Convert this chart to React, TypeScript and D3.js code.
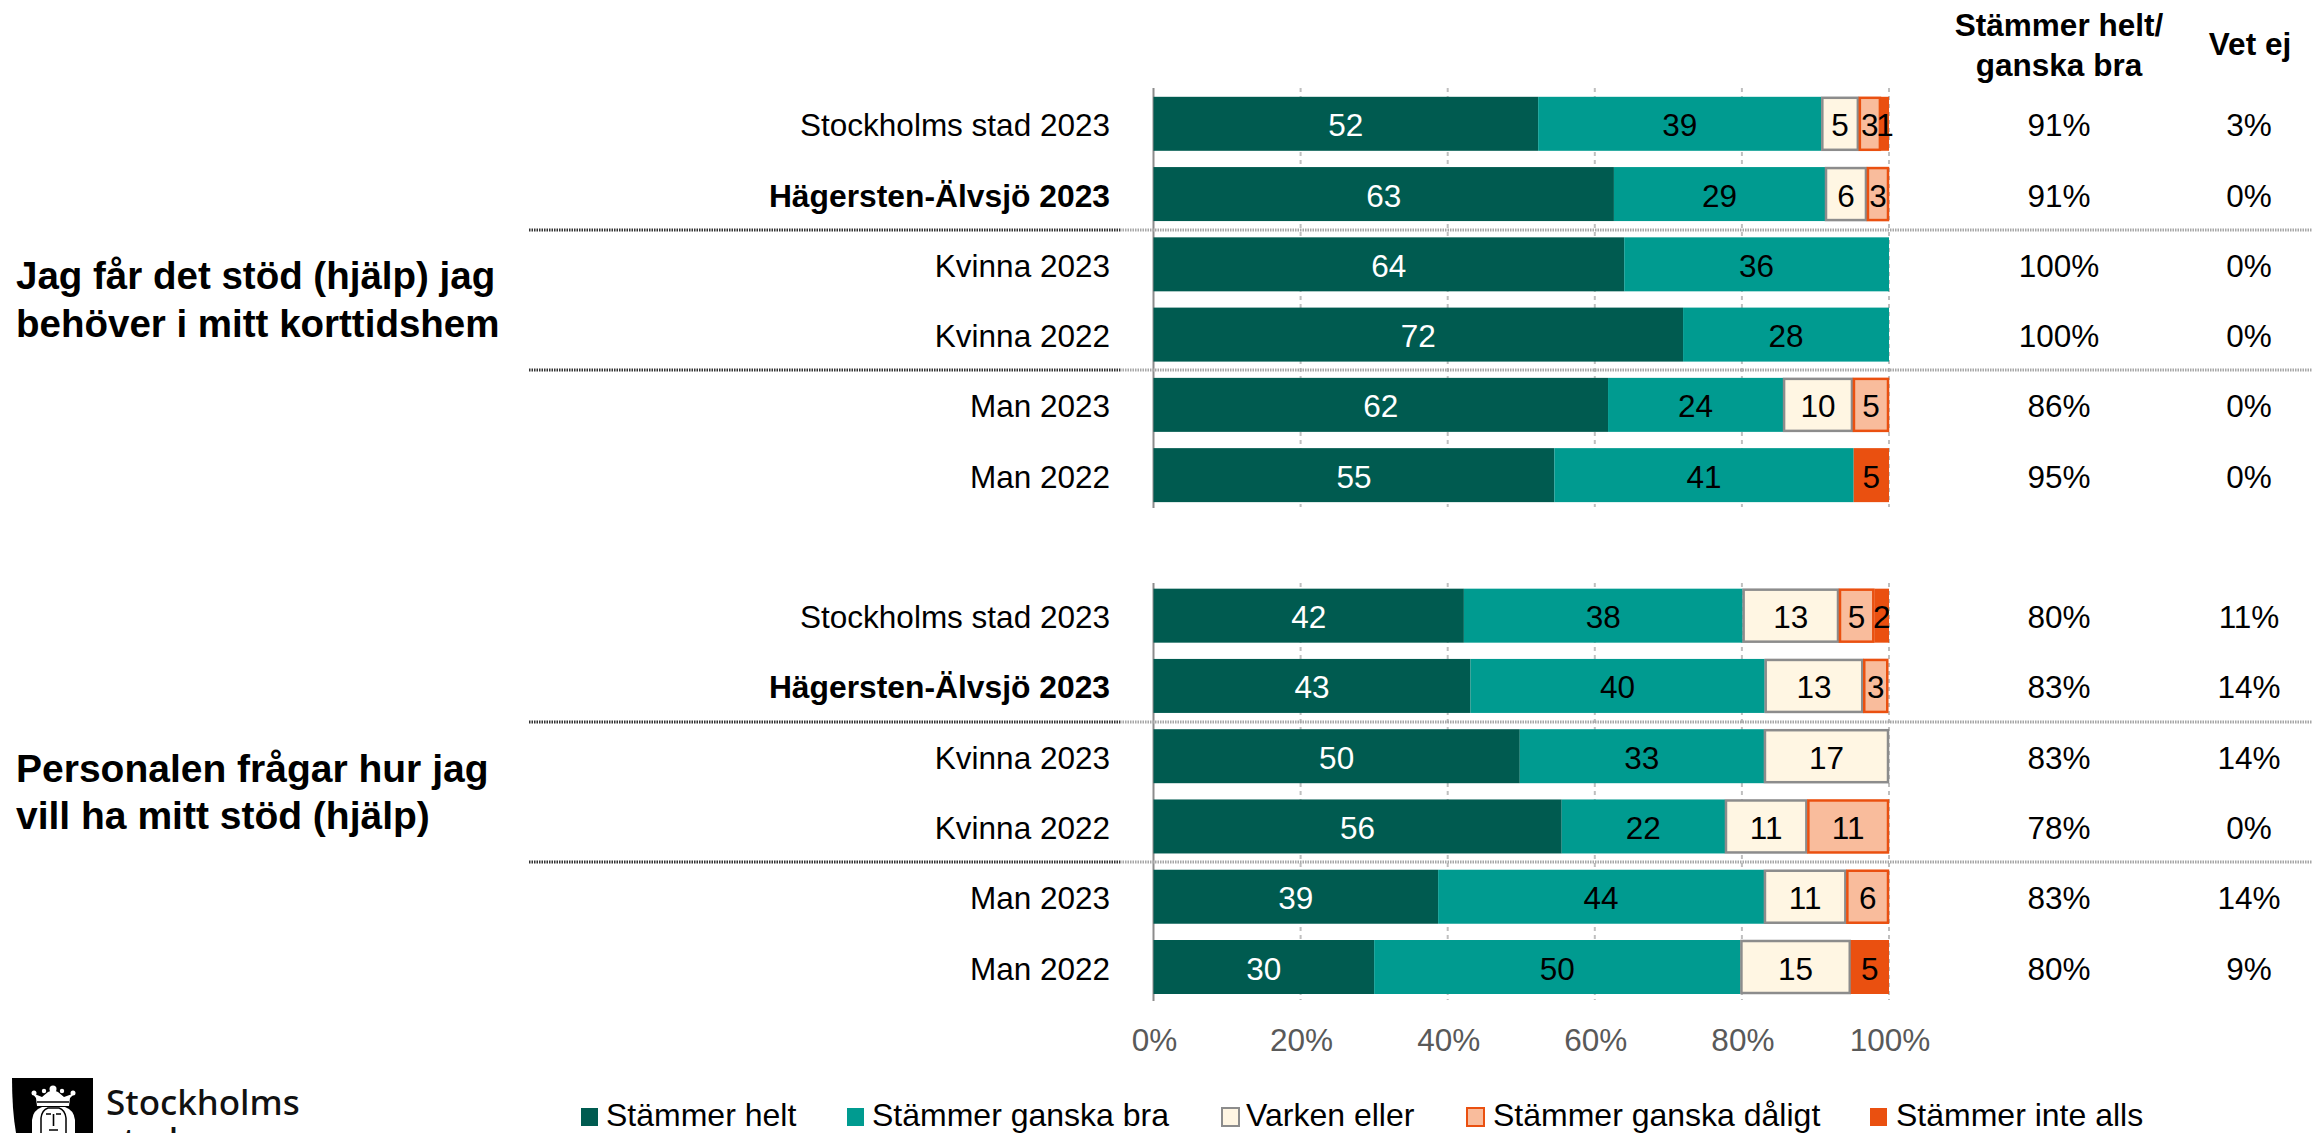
import React from "react";
import * as d3 from "d3";

const rowLabels = [
  "Stockholms stad 2023", "Hägersten-Älvsjö 2023", "Kvinna 2023", "Kvinna 2022", "Man 2023", "Man 2022",
  "Stockholms stad 2023", "Hägersten-Älvsjö 2023", "Kvinna 2023", "Kvinna 2022", "Man 2023", "Man 2022",
];
const boldRows = [1, 7];
const slotOfRow = [0, 1, 2, 3, 4, 5, 7, 8, 9, 10, 11, 12];
const slots = d3.range(13);

const helt = [52.3, 62.6, 64, 72.0, 61.8, 54.5, 42.2, 43.1, 49.8, 55.5, 38.7, 30];
const ganskaBra = [38.5, 28.7, 36, 28.0, 23.8, 40.7, 37.9, 40.0, 33.2, 22.2, 44.3, 49.8];
const varken = [5.1, 5.7, 0, 0, 9.5, 0, 13.1, 13.4, 17.0, 11.2, 11.2, 15];
const daligt = [3, 3, 0, 0, 4.9, 0, 4.8, 3.4, 0, 11.1, 5.8, 0];
const inteAlls = [1.1, 0, 0, 0, 0, 4.8, 2, 0, 0, 0, 0, 5.2];

const positiveShare = ["91%", "91%", "100%", "100%", "86%", "95%", "80%", "83%", "83%", "78%", "83%", "80%"];
const dontKnow = ["3%", "0%", "0%", "0%", "0%", "0%", "11%", "14%", "14%", "0%", "14%", "9%"];
const xTicks = [0, 20, 40, 60, 80, 100];

const seriesNames = ["Stämmer helt", "Stämmer ganska bra", "Varken eller", "Stämmer ganska dåligt", "Stämmer inte alls"];
const seriesValues = [helt, ganskaBra, varken, daligt, inteAlls];
const seriesFill = ["#005B50", "#009B90", "#FFF6E3", "#F9BC9C", "#EA5010"];
const seriesStroke = ["none", "none", "#8C8C8C", "#EA5010", "none"];
const seriesText = ["#FFFFFF", "#000000", "#000000", "#000000", "#000000"];
const legendX = [581, 847, 1221, 1466, 1870];
const legendTextX = [606, 872, 1246, 1493, 1896];

const questions = [
  { lines: ["Jag får det stöd (hjälp) jag", "behöver i mitt korttidshem"], y: [289, 337], size: 38.5 },
  { lines: ["Personalen frågar hur jag", "vill ha mitt stöd (hjälp)"], y: [782, 829], size: 39 },
];
const separators = [230, 370, 722, 862];
const axisSpans = [[88, 508], [583, 1001]];

const FONT = '"Liberation Sans", Arial, sans-serif';
const FS = 31.5;
const TEXT_DY = 12.5;

const x = d3.scaleLinear().domain([0, 100]).range([1153.5, 1889]);
const y = d3.scalePoint<number>().domain(slots).range([123.8, 967]);
const BAR_H = 54;

const table = helt.map((_, i) => {
  const o: Record<string, number> = {};
  seriesNames.forEach((n, s) => (o[n] = seriesValues[s][i]));
  return o;
});
const stacked = d3.stack<Record<string, number>>().keys(seriesNames)(table);

function Logo() {
  return (
    <g>
      <path d="M12 1078 H93 V1133 H16 Q12 1110 12 1078 Z" fill="#000" />
      <path d="M32 1133 V1120 Q33 1110 42 1107 H65 Q74 1110 75 1120 V1133 Z" fill="#fff" />
      <path d="M41 1133 V1118 Q42 1110 48 1108 H59 Q65 1110 66 1118 V1133" fill="none" stroke="#000" strokeWidth="1.5" />
      <path d="M37 1106 L36 1098 L32 1093 L42 1097 L48 1092 L53 1090 L58 1092 L64 1097 L75 1093 L70 1098 L69 1106 Z" fill="#fff" />
      <path d="M37 1102 H69" stroke="#000" strokeWidth="1.5" />
      <circle cx="53" cy="1089" r="3.5" fill="#fff" />
      <circle cx="34" cy="1093" r="2.5" fill="#fff" />
      <circle cx="73" cy="1093" r="2.5" fill="#fff" />
      <circle cx="44" cy="1091" r="2.2" fill="#fff" />
      <circle cx="62" cy="1091" r="2.2" fill="#fff" />
      <path d="M46 1114 H51 M56 1114 H61 M53.5 1114 V1126 M49 1130 H58" stroke="#000" strokeWidth="1.6" fill="none" />
      <text x={106} y={1115} fontFamily='"Noto Sans", sans-serif' fontSize={35} fontWeight={500} fill="#111">Stockholms</text>
      <text x={106} y={1153} fontFamily='"Noto Sans", sans-serif' fontSize={35} fontWeight={500} fill="#111">stad</text>
    </g>
  );
}

export default function App() {
  return (
    <svg
      width={2321}
      height={1133}
      viewBox="0 0 2321 1133"
      style={{ position: "absolute", left: 0, top: 0, background: "#fff", display: "block" }}
      fontFamily={FONT}
      fontSize={FS}
    >
      {/* gridlines */}
      {axisSpans.map(([a, b], k) => (
        <g key={k}>
          {xTicks.slice(1).map((t) => (
            <line key={t} x1={x(t)} x2={x(t)} y1={a} y2={b - 1} stroke="#BFBFBF" strokeWidth={2} strokeDasharray="4 4" />
          ))}
          <line x1={x(0)} x2={x(0)} y1={a} y2={b} stroke="#8C8C8C" strokeWidth={2} />
        </g>
      ))}

      {/* separators */}
      {separators.map((s) => (
        <g key={s}>
          <line x1={529} x2={1120} y1={s} y2={s} stroke="#333" strokeWidth={3} strokeDasharray="1.5 1" />
          <line x1={1120} x2={2312} y1={s} y2={s} stroke="#A6A6A6" strokeWidth={3} strokeDasharray="1.5 1" />
        </g>
      ))}

      {/* bars */}
      {stacked.map((layer, s) => (
        <g key={seriesNames[s]}>
          {layer.map((d, i) => {
            const w = x(d[1]) - x(d[0]);
            if (w <= 0) return null;
            const cy = y(slotOfRow[i])!;
            const stroked = seriesStroke[s] !== "none";
            return (
              <rect
                key={i}
                x={x(d[0]) + (stroked ? 1 : 0)}
                y={cy - BAR_H / 2 + (stroked ? 1 : 0)}
                width={w - (stroked ? 2 : 0)}
                height={BAR_H - (stroked ? 2 : 0)}
                fill={seriesFill[s]}
                stroke={seriesStroke[s]}
                strokeWidth={stroked ? 2.5 : 0}
              />
            );
          })}
        </g>
      ))}
      {stacked.map((layer, s) => (
        <g key={seriesNames[s]}>
          {layer.map((d, i) => {
            if (x(d[1]) - x(d[0]) <= 0) return null;
            const cy = y(slotOfRow[i])!;
            return (
              <text key={i} x={(x(d[0]) + x(d[1])) / 2} y={cy + TEXT_DY} textAnchor="middle" fill={seriesText[s]}>
                {Math.round(seriesValues[s][i])}
              </text>
            );
          })}
        </g>
      ))}

      {/* row labels and side columns */}
      {rowLabels.map((label, i) => {
        const cy = y(slotOfRow[i])!;
        const bold = boldRows.includes(i);
        return (
          <g key={i}>
            <text x={1110} y={cy + TEXT_DY} textAnchor="end" fill="#000" fontWeight={bold ? 700 : 400} fontSize={bold ? 31.8 : FS}>
              {label}
            </text>
            <text x={2059} y={cy + TEXT_DY} textAnchor="middle" fill="#000">{positiveShare[i]}</text>
            <text x={2249} y={cy + TEXT_DY} textAnchor="middle" fill="#000">{dontKnow[i]}</text>
          </g>
        );
      })}

      {/* headers */}
      <g fontWeight={700} textAnchor="middle" fill="#000">
        <text x={2059} y={36}>Stämmer helt/</text>
        <text x={2059} y={76}>ganska bra</text>
        <text x={2250} y={55}>Vet ej</text>
      </g>

      {/* question titles */}
      {questions.map((q) =>
        q.lines.map((line, j) => (
          <text key={line} x={16} y={q.y[j]} fontWeight={700} fontSize={q.size} fill="#000">{line}</text>
        ))
      )}

      {/* x axis labels */}
      {xTicks.map((t) => (
        <text key={t} x={x(t) + 1} y={1051} textAnchor="middle" fill="#595959">{t}%</text>
      ))}

      {/* legend */}
      {seriesNames.map((n, s) => {
        const stroked = seriesStroke[s] !== "none";
        return (
          <g key={n}>
            <rect
              x={legendX[s] + (stroked ? 1 : 0)}
              y={1108}
              width={17}
              height={18}
              fill={seriesFill[s]}
              stroke={seriesStroke[s]}
              strokeWidth={stroked ? 2 : 0}
            />
            <text x={legendTextX[s]} y={1126} fill="#000" fontSize={32}>{n}</text>
          </g>
        );
      })}

      <Logo />
    </svg>
  );
}
